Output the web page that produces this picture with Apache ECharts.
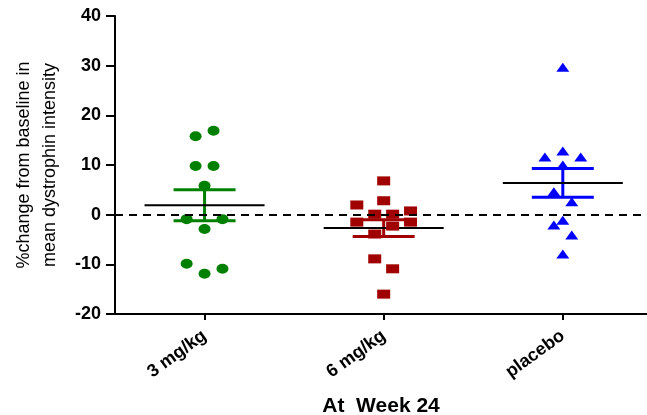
<!DOCTYPE html>
<html>
<head>
<meta charset="utf-8">
<script src="https://cdn.jsdelivr.net/npm/echarts@6/dist/echarts.min.js"></script>
<style>html,body{margin:0;padding:0;background:#fff}#c{width:647px;height:415px}</style>
</head>
<body>
<div id="c"></div>
<script>
// ---- data ----
var categories = ['3 mg/kg', '6 mg/kg', 'placebo'];
var yTicks = [-20, -10, 0, 10, 20, 30, 40];

// individual subject values (% change) and their horizontal dodge (category units)
var dose3Values = [15.8, 16.9, 9.8, 9.8, 5.8, -0.9, -0.9, -2.9, -9.9, -11.9, -10.9];
var dose3Dodge  = [-0.05, 0.05, -0.05, 0.05, 0, -0.1, 0.1, 0, -0.1, 0, 0.1];

var dose6Values = [6.8, 2.8, 1.95, 0.75, 0.1, 0.1, -1.5, -1.5, -2.3, -3.9, -8.9, -10.9, -16.0];
var dose6Dodge  = [0, 0, -0.15, 0.15, -0.05, 0.05, -0.15, 0.15, 0.05, -0.05, -0.05, 0.05, 0];

var placeboValues = [29.7, 11.6, 11.6, 12.8, 10.0, 4.6, 2.6, -1.1, -2.1, -4.1, -7.9];
var placeboDodge  = [0, -0.1, 0.1, 0, 0, -0.05, 0.05, 0, -0.05, 0.05, 0];

// group mean and SEM limits
var groupMean  = [1.9, -2.7, 6.4];
var groupLower = [-1.2, -4.4, 3.5];
var groupUpper = [5.0, -1.0, 9.3];

var colors = ['#008000', '#a00000', '#0000ff'];

function pts(vals, dodge, idx) {
  return vals.map(function (v, i) { return [idx + 1 + dodge[i], v]; });
}
var summary = categories.map(function (c, i) {
  return [i + 1, groupMean[i], groupLower[i], groupUpper[i]];
});

var chart = echarts.init(document.getElementById('c'), null, {renderer: 'canvas'});
var FONT = 'Liberation Sans, Arial, sans-serif';

chart.setOption({
  animation: false,
  backgroundColor: '#ffffff',
  grid: {left: 115, right: 0, top: 16, bottom: 101, containLabel: false, outerBoundsMode: 'none'},
  xAxis: {
    type: 'value', min: 0.5, max: 3.47,
    name: 'At  Week 24', nameLocation: 'middle', nameGap: 82,
    nameTextStyle: {fontFamily: FONT, fontWeight: 'bold', fontSize: 21, color: '#000'},
    axisLine: {onZero: false, lineStyle: {color: '#000', width: 2}},
    axisTick: {show: true, length: 6, lineStyle: {color: '#000', width: 2}, customValues: [1, 2, 3]},
    axisLabel: {
      rotate: 36, margin: 20, customValues: [1, 2, 3],
      fontFamily: FONT, fontWeight: 'bold', fontSize: 18, color: '#000',
      formatter: function (v) { return categories[Math.round(v) - 1] || ''; }
    },
    splitLine: {show: false}
  },
  yAxis: {
    type: 'value', min: yTicks[0], max: yTicks[yTicks.length - 1], interval: 10,
    name: '%change from baseline in\nmean dystrophin intensity',
    nameLocation: 'middle', nameRotate: 90, nameGap: 52,
    nameTextStyle: {fontFamily: FONT, fontSize: 18, color: '#000', lineHeight: 26},
    axisLine: {show: true, lineStyle: {color: '#000', width: 2}},
    axisTick: {show: true, length: 9, lineStyle: {color: '#000', width: 2}},
    axisLabel: {margin: 14, fontFamily: FONT, fontWeight: 'bold', fontSize: 18, color: '#000'},
    splitLine: {show: false}
  },
  series: [
    {
      type: 'scatter', data: [], z: 1, silent: true,
      markLine: {
        silent: true, symbol: 'none', label: {show: false},
        lineStyle: {color: '#000', width: 2, type: [8, 6]},
        data: [{yAxis: 0}]
      }
    },
    {
      type: 'custom', z: 2, data: summary,
      renderItem: function (params, api) {
        var i = params.dataIndex;
        var x = api.value(0), m = api.value(1), lo = api.value(2), hi = api.value(3);
        var col = colors[i];
        var pLo = api.coord([x, lo]), pHi = api.coord([x, hi]);
        var capL = api.coord([x - 0.173, lo])[0], capR = api.coord([x + 0.173, lo])[0];
        var mL = api.coord([x - 0.335, m]), mR = api.coord([x + 0.335, m]);
        var s = {stroke: col, lineWidth: 3};
        return {
          type: 'group',
          children: [
            {type: 'line', shape: {x1: pLo[0], y1: pLo[1], x2: pHi[0], y2: pHi[1]}, style: s},
            {type: 'line', shape: {x1: capL, y1: pLo[1], x2: capR, y2: pLo[1]}, style: s},
            {type: 'line', shape: {x1: capL, y1: pHi[1], x2: capR, y2: pHi[1]}, style: s},
            {type: 'line', shape: {x1: mL[0], y1: mL[1], x2: mR[0], y2: mR[1]}, style: {stroke: '#000', lineWidth: 2}}
          ]
        };
      }
    },
    {type: 'scatter', z: 3, name: categories[0], data: pts(dose3Values, dose3Dodge, 0),
     symbol: 'circle', symbolSize: [12, 10], itemStyle: {color: colors[0], opacity: 1}},
    {type: 'scatter', z: 3, name: categories[1], data: pts(dose6Values, dose6Dodge, 1),
     symbol: 'rect', symbolSize: [13, 9], itemStyle: {color: colors[1], opacity: 1}},
    {type: 'scatter', z: 3, name: categories[2], data: pts(placeboValues, placeboDodge, 2),
     symbol: 'triangle', symbolSize: [13, 9], itemStyle: {color: colors[2], opacity: 1}}
  ]
});
</script>
</body>
</html>
